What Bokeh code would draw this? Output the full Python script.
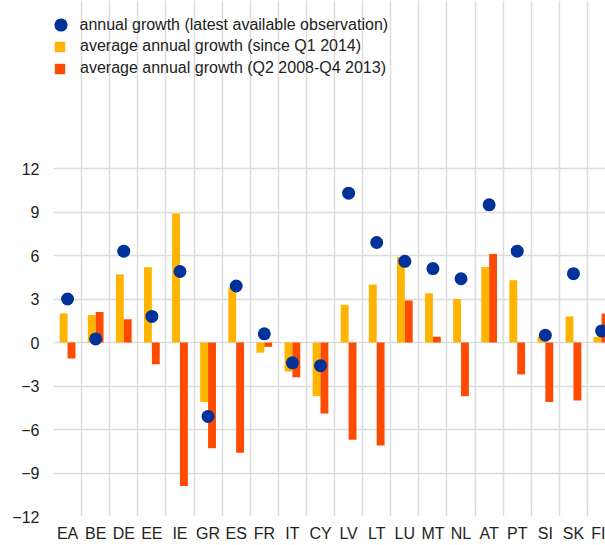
import numpy as np
from bokeh.plotting import figure
from bokeh.models import (ColumnDataSource, Range1d, FixedTicker, Legend, LegendItem)
from bokeh.transform import dodge
from bokeh.embed import file_html
from bokeh.resources import INLINE

countries = ["EA", "BE", "DE", "EE", "IE", "GR", "ES", "FR", "IT", "CY",
             "LV", "LT", "LU", "MT", "NL", "AT", "PT", "SI", "SK", "FI"]
latest = [3.0, 0.25, 6.3, 1.8, 4.9, -5.1, 3.9, 0.6, -1.4, -1.6,
          10.3, 6.9, 5.6, 5.1, 4.4, 9.5, 6.3, 0.5, 4.75, 0.8]
since_2014 = [2.0, 1.9, 4.7, 5.2, 8.9, -4.1, 3.8, -0.7, -2.0, -3.7,
              2.6, 4.0, 5.9, 3.4, 3.0, 5.2, 4.3, 0.4, 1.8, 0.4]
crisis = [-1.1, 2.1, 1.6, -1.5, -9.9, -7.3, -7.6, -0.3, -2.4, -4.9,
          -6.7, -7.1, 2.9, 0.4, -3.7, 6.1, -2.2, -4.1, -4.0, 2.0]
y_ticks = [-12, -9, -6, -3, 0, 3, 6, 9, 12]

BLUE = "#003299"
YELLOW = "#FFB400"
RED = "#FF4B00"
FONT = "Liberation Sans"

idx = list(range(len(countries)))
src = ColumnDataSource(dict(x=idx, latest=latest, since=since_2014, crisis=crisis))

# frame extends to the top of the canvas so the legend can sit above the grid
p = figure(width=605, height=545, output_backend="svg", toolbar_location=None,
           x_range=Range1d(-0.5, 19.14), y_range=Range1d(-12, 23.59),
           min_border_left=53, min_border_right=0, min_border_top=0,
           min_border_bottom=29)
p.outline_line_color = None
p.background_fill_color = "white"
p.border_fill_color = "white"

bw = 0.28
r1 = p.vbar(x=dodge("x", -bw / 2), top="since", bottom=0, width=bw, source=src,
            fill_color=YELLOW, line_color=None)
r2 = p.vbar(x=dodge("x", bw / 2), top="crisis", bottom=0, width=bw, source=src,
            fill_color=RED, line_color=None)
r0 = p.scatter(x="x", y="latest", source=src, size=13, fill_color=BLUE,
               line_color=None, marker="circle")

# axes
p.xaxis.ticker = FixedTicker(ticks=idx)
p.xaxis.major_label_overrides = {i: c for i, c in enumerate(countries)}
p.yaxis.ticker = FixedTicker(ticks=y_ticks)
for ax in (p.xaxis[0], p.yaxis[0]):
    ax.axis_line_color = None
    ax.major_tick_line_color = None
    ax.minor_tick_line_color = None
    ax.major_tick_in = 0
    ax.major_tick_out = 0
    ax.major_label_text_font = FONT
    ax.major_label_text_font_size = "16px"
    ax.major_label_text_color = "#222222"
p.xaxis.major_label_standoff = 8
p.yaxis.major_label_standoff = 14

# grid
p.xgrid.ticker = FixedTicker(ticks=[i - 0.5 for i in range(len(countries) + 1)])
p.xgrid.bounds = (-12, 12)
p.ygrid.ticker = FixedTicker(ticks=y_ticks)
for g in (p.xgrid[0], p.ygrid[0]):
    g.grid_line_color = "#dcdcdc"
    g.grid_line_width = 1.5


def style_legend(lg):
    lg.label_text_font = FONT
    lg.label_text_font_size = "16px"
    lg.label_text_color = "#222222"
    lg.label_height = 20
    lg.spacing = 2
    lg.padding = 0
    lg.margin = 0
    lg.border_line_color = None
    lg.background_fill_alpha = 0


# dot legend (larger glyph box so the marker matches the plotted dots)
legend_dot = Legend(items=[
    LegendItem(label="annual growth (latest available observation)", renderers=[r0]),
], location=(-9.5, 475))
style_legend(legend_dot)
legend_dot.glyph_width = 33
legend_dot.glyph_height = 33
legend_dot.label_standoff = 3
p.add_layout(legend_dot, "center")

legend_bars = Legend(items=[
    LegendItem(label="average annual growth (since Q1 2014)", renderers=[r1]),
    LegendItem(label="average annual growth (Q2 2008-Q4 2013)", renderers=[r2]),
], location=(0, 438))
style_legend(legend_bars)
legend_bars.glyph_width = 13
legend_bars.glyph_height = 13
legend_bars.label_standoff = 14
p.add_layout(legend_bars, "center")

open("out.html", "w").write(file_html(p, INLINE))
